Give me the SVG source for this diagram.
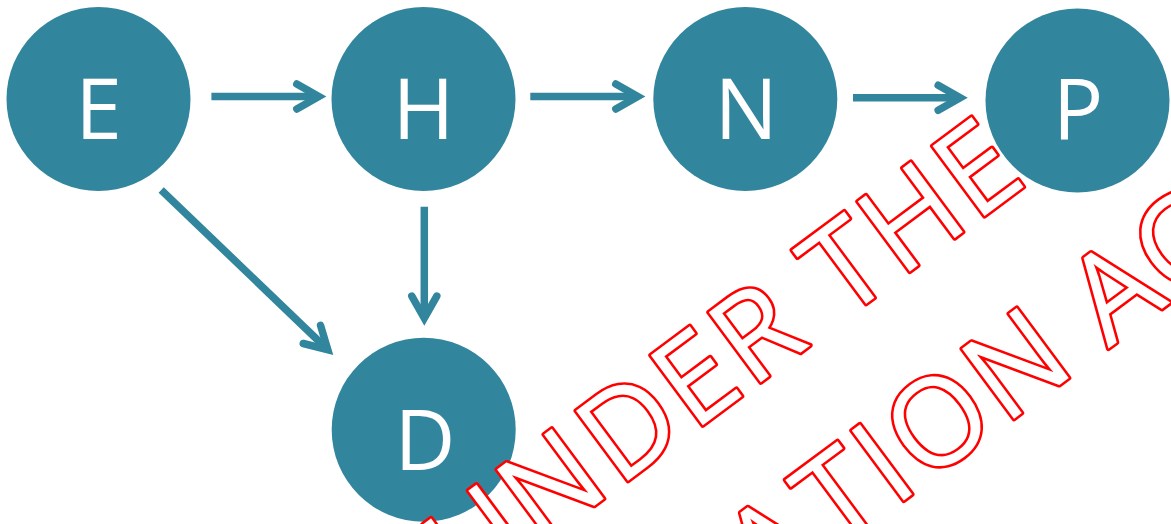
<svg xmlns="http://www.w3.org/2000/svg" width="1171" height="524" viewBox="0 0 1171 524">
  <style>
    .node circle { fill: #31859C; }
    .node text { fill: #FFFFFF; font-family: "Open Sans", "Liberation Sans", sans-serif; font-size: 84px; text-anchor: middle; }
    .edge { stroke: #31859C; stroke-width: 7.5; fill: none; stroke-linecap: butt; marker-end: url(#arrow); }
    .wm { fill: #FFFFFF; stroke: #FF0000; stroke-width: 5.2; stroke-linejoin: round; paint-order: stroke fill; font-family: "Open Sans", "Liberation Sans", sans-serif; font-size: 122px; }
  </style>
  <defs>
    <marker id="arrow" markerUnits="userSpaceOnUse" orient="auto" refX="0" refY="0" markerWidth="60" markerHeight="60" viewBox="-30 -30 60 60" overflow="visible">
      <path d="M-22,-12.5 L0,0 L-22,12.5" fill="none" stroke="#31859C" stroke-width="7.5" stroke-linecap="round" stroke-linejoin="miter"/>
    </marker>
  </defs>

  <g id="connectors">
    <path class="edge" d="M211.4,96.5 L318.8,96.5"/>
    <path class="edge" d="M530.3,96.5 L637.8,96.5"/>
    <path class="edge" d="M853,97.8 L960.2,97.8"/>
    <path class="edge" d="M424.3,206.7 L424.3,318.1"/>
    <path class="edge" d="M161.2,190 L327.8,349.7"/>
  </g>

  <g id="node-E" class="node">
    <circle cx="98.5" cy="99" r="92"/>
    <text x="98.5" y="138.5">E</text>
  </g>
  <g id="node-H" class="node">
    <circle cx="423.5" cy="99" r="92"/>
    <text x="423.5" y="138.5">H</text>
  </g>
  <g id="node-N" class="node">
    <circle cx="745.3" cy="99" r="92"/>
    <text x="746" y="139">N</text>
  </g>
  <g id="node-P" class="node">
    <circle cx="1077.5" cy="100.5" r="92"/>
    <text x="1078" y="140">P</text>
  </g>
  <g id="node-D" class="node">
    <circle cx="423.7" cy="429.7" r="92"/>
    <text x="425" y="470">D</text>
  </g>

  <g id="watermark" transform="translate(844.9,319.6) rotate(-36.6)">
    <text class="wm" x="-472 -380.5 -282 -189 -116.8 -40 -2 68.8 162" y="0">UNDER THE</text>
    <text class="wm" x="-233 -144.5 -72.5 -34 64.8 160 194.5 274" y="180.3">ATION AC</text>
  </g>
</svg>
